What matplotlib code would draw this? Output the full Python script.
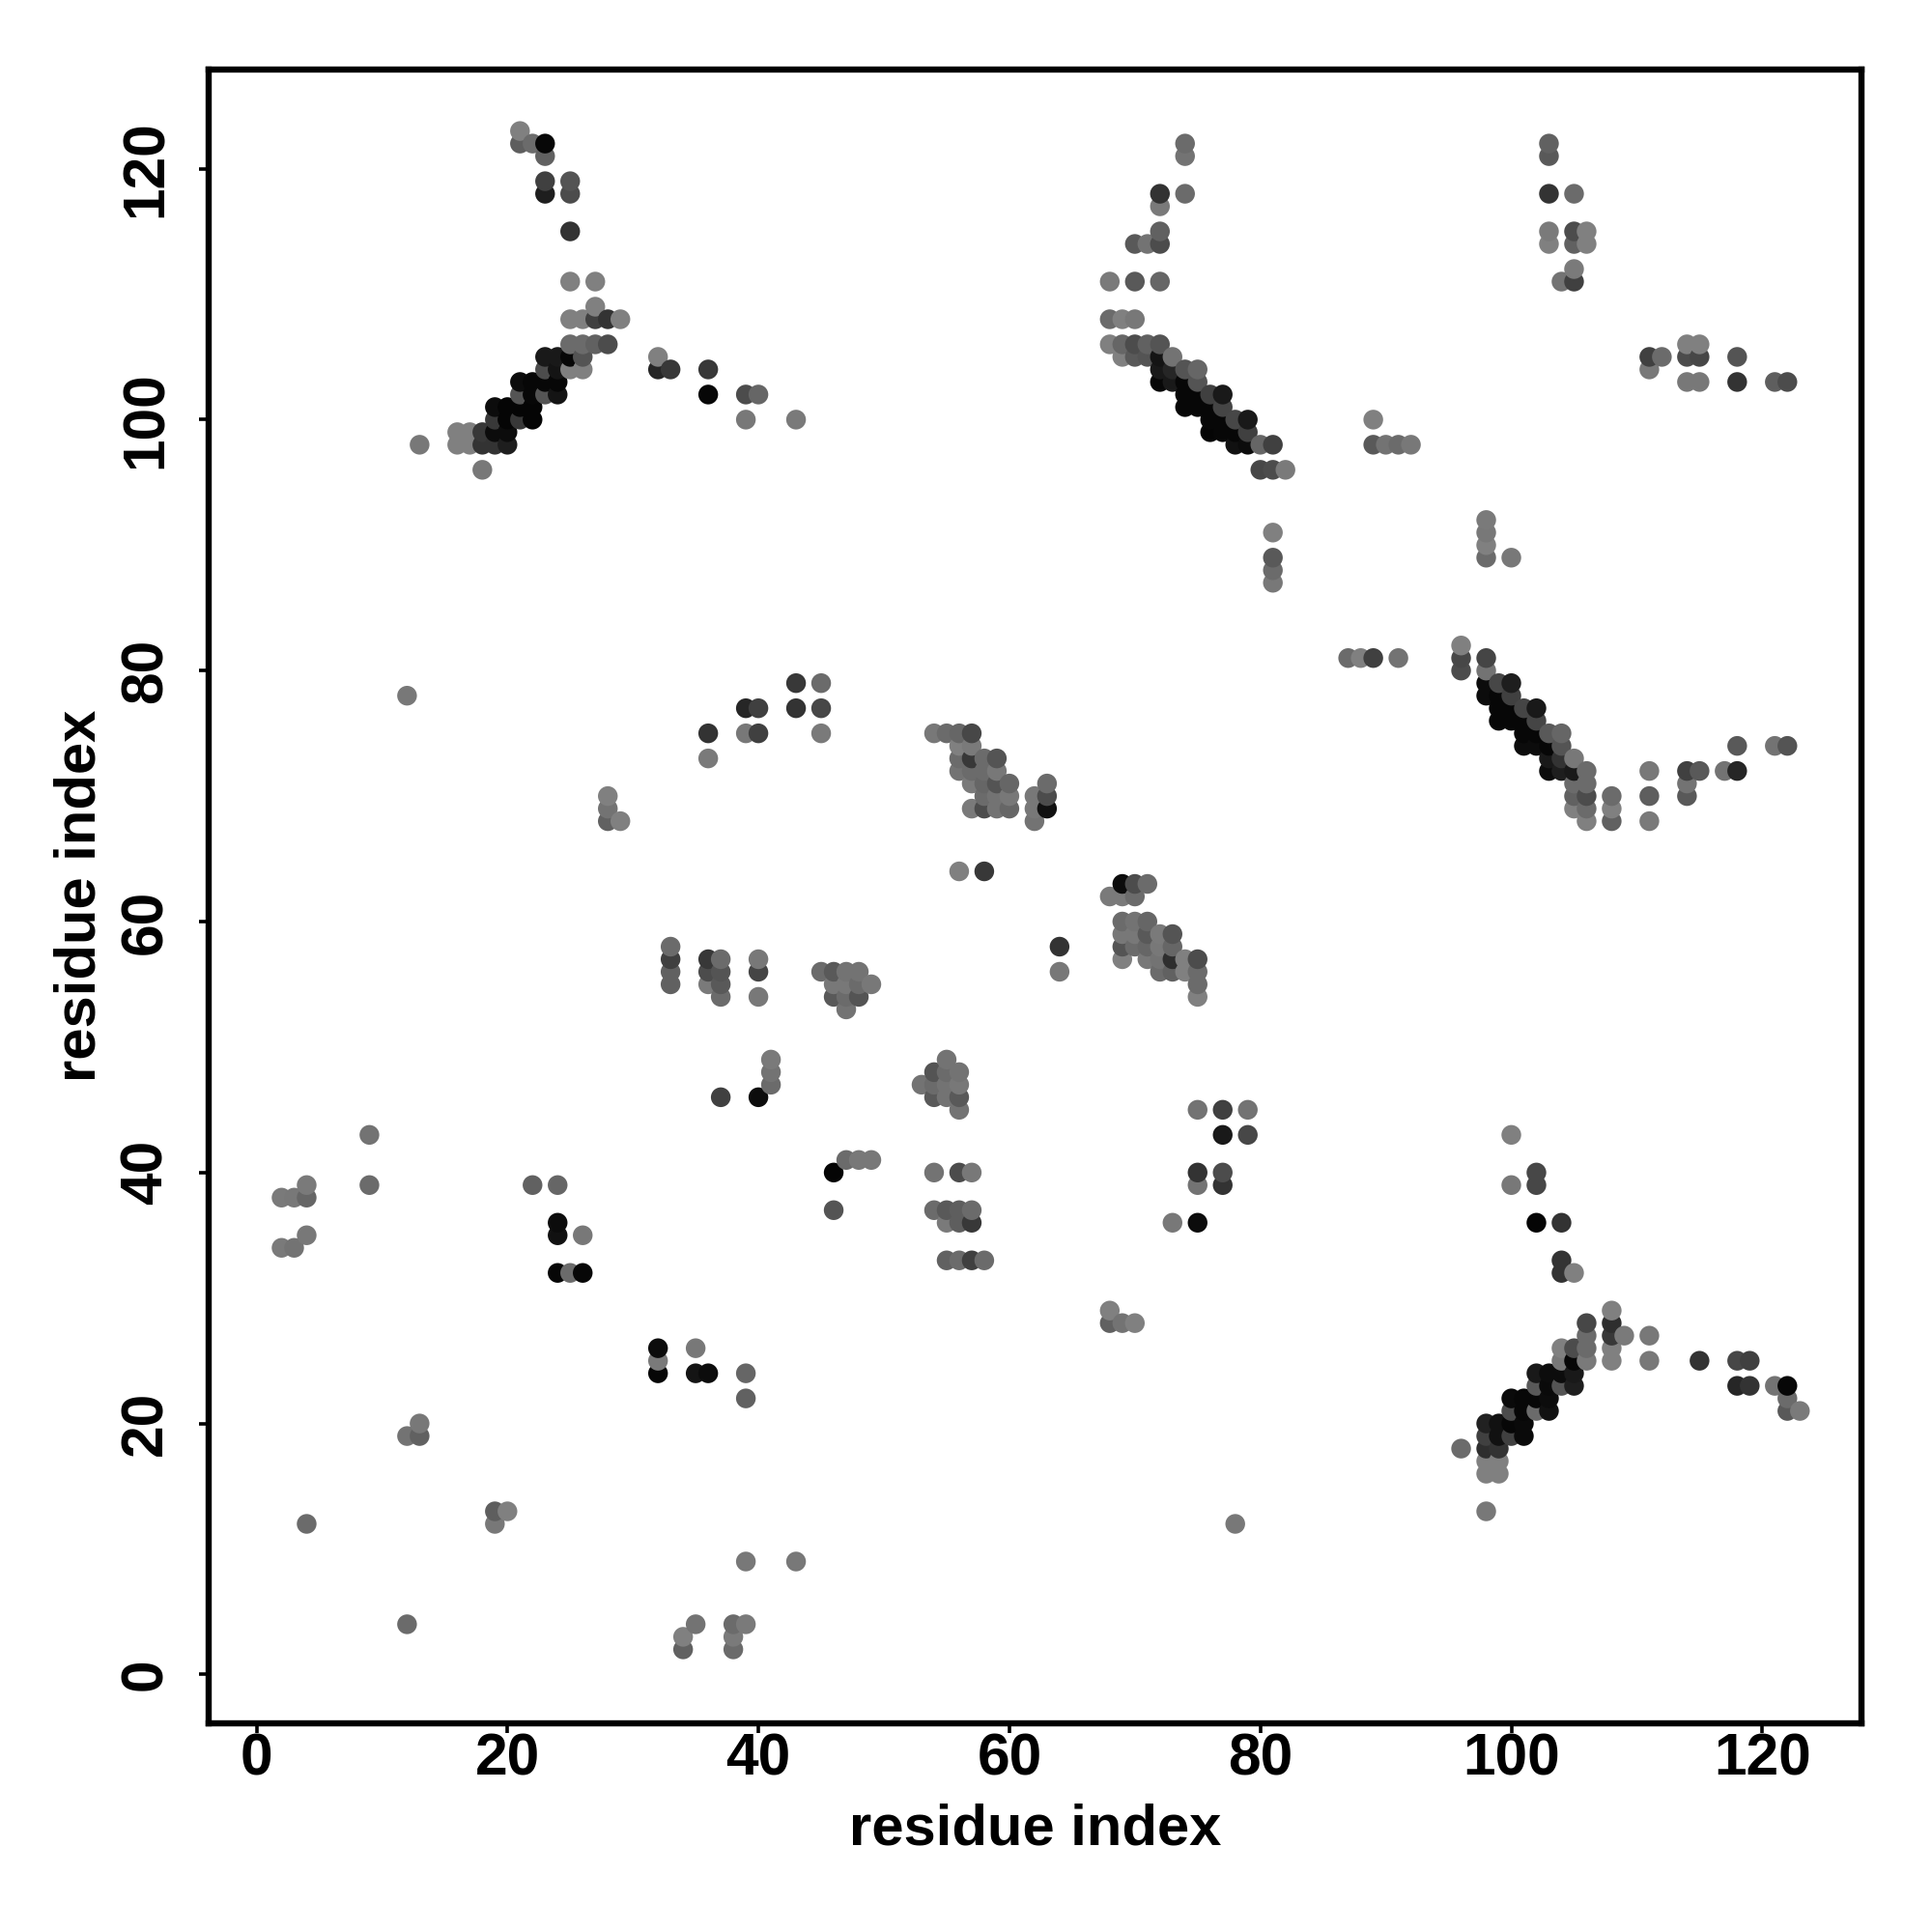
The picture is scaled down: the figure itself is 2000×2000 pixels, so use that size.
import matplotlib
matplotlib.use("Agg")
import matplotlib.pyplot as plt

plt.rcParams['font.family'] = ['Liberation Sans', 'DejaVu Sans']
plt.rcParams['font.weight'] = 'bold'

# contacts, one line per row of dots
res_i = [
    21, 21, 22, 23, 23, 23, 25, 23, 25, 25, 25, 27, 27,
    25, 26, 27, 28, 29, 25, 26, 27, 28, 23, 24, 25, 26, 32,
    23, 24, 25, 26, 32, 33, 21, 22, 23, 24, 21, 22, 23, 24,
    19, 20, 21, 22, 19, 20, 21, 22, 16, 17, 18, 19, 20,
    13, 16, 17, 18, 19, 20, 18,
    68, 69, 70, 68, 69, 70, 71, 72, 69, 70, 71, 72, 73,
    72, 73, 74, 75, 72, 73, 74, 75, 74, 75, 76, 77, 74, 75, 76, 77,
    76, 77, 78, 79, 76, 77, 78, 79, 78, 79, 80, 81, 80, 81, 82,
    96, 96, 96, 98, 98, 98, 99, 100, 98, 99, 100, 99, 100, 101, 102,
    99, 100, 101, 102, 101, 102, 103, 104, 101, 102, 103, 104,
    103, 104, 105, 103, 104, 105, 106, 105, 106, 105, 106, 108, 111,
    105, 106, 108, 106, 108, 111, 111, 114, 115, 114, 114, 118, 117, 118, 121, 122,
    96, 98, 98, 99, 98, 99, 98, 99, 98, 99, 100, 101, 98, 99, 100, 101,
    100, 101, 102, 103, 100, 101, 102, 103, 102, 103, 104, 105, 102, 103, 104, 105,
    104, 105, 106, 108, 111, 104, 105, 106, 108, 106, 108, 109, 111, 106, 108, 108,
    54, 55, 56, 57, 56, 57, 56, 57, 58, 59, 56, 57, 58, 59, 57, 58, 59, 60, 63,
    58, 59, 60, 62, 63, 57, 58, 59, 60, 62, 63, 62,
    69, 70, 71, 68, 69, 70, 69, 70, 71, 69, 70, 71, 72, 73, 69, 70, 71, 72, 73,
    69, 71, 72, 73, 74, 75, 72, 73, 74, 75, 75, 75,
    55, 54, 55, 56, 53, 54, 55, 56, 54, 55, 56, 56, 54, 56, 57,
    54, 55, 56, 57, 55, 56, 57, 55, 56, 57, 58,
    33, 33, 33, 33, 36, 36, 36, 37, 37, 37, 37, 40, 40, 40,
    45, 46, 46, 46, 47, 47, 47, 47, 48, 48, 48, 49,
    74, 74, 74, 72, 72, 72, 72, 71, 70, 72, 70, 68,
    103, 103, 103, 105, 103, 103, 105, 105, 106, 106, 105, 104, 105,
    111, 112, 111, 114, 115, 114, 115, 114, 115, 118, 118, 121, 122,
    89, 89, 90, 91, 92, 81, 81, 81, 81, 98, 98, 98, 98, 100, 87, 88, 89, 91,
    36, 36, 39, 40, 39, 43, 12, 39, 40, 39, 40, 36, 36, 43, 45, 43, 45, 45,
    28, 28, 28, 29, 56, 58, 64, 64, 37, 40, 41, 41, 41,
    46, 46, 47, 48, 49, 75, 77, 79, 77, 79, 75, 75, 77, 77, 73, 75,
    100, 100, 102, 102, 102, 104, 104, 104, 105, 68, 68, 69, 70, 78,
    115, 118, 119, 118, 119, 121, 122, 122, 122, 123,
    2, 3, 4, 4, 4, 2, 3, 9, 9, 4,
    22, 24, 24, 24, 26, 24, 25, 26, 32, 32, 32, 35, 35, 36, 39, 39,
    12, 13, 13, 19, 20, 19, 39, 43, 12, 34, 34, 35, 38, 39, 38, 38,
]
res_j = [
    123, 122, 122, 122, 121, 119, 119, 118, 118, 115, 111, 111, 109,
    108, 108, 108, 108, 108, 106, 106, 106, 106, 105, 105, 105, 105, 105,
    104, 104, 104, 104, 104, 104, 103, 103, 103, 103, 102, 102, 102, 102,
    101, 101, 101, 101, 100, 100, 100, 100, 99, 99, 99, 99, 99,
    98, 98, 98, 98, 98, 98, 96,
    108, 108, 108, 106, 106, 106, 106, 106, 105, 105, 105, 105, 105,
    104, 104, 104, 104, 103, 103, 103, 103, 102, 102, 102, 102, 101, 101, 101, 101,
    100, 100, 100, 100, 99, 99, 99, 99, 98, 98, 98, 98, 96, 96, 96,
    82, 81, 80, 81, 80, 79, 79, 79, 78, 78, 78, 77, 77, 77, 77,
    76, 76, 76, 76, 75, 75, 75, 75, 74, 74, 74, 74,
    73, 73, 73, 72, 72, 72, 72, 71, 71, 70, 70, 70, 70,
    69, 69, 69, 68, 68, 68, 72, 72, 72, 71, 70, 74, 72, 72, 74, 74,
    18, 13, 16, 16, 17, 17, 18, 18, 19, 19, 19, 19, 20, 20, 20, 20,
    21, 21, 21, 21, 22, 22, 22, 22, 23, 23, 23, 23, 24, 24, 24, 24,
    25, 25, 25, 25, 25, 26, 26, 26, 26, 27, 27, 27, 27, 28, 28, 29,
    75, 75, 75, 75, 74, 74, 73, 73, 73, 73, 72, 72, 72, 72, 71, 71, 71, 71, 71,
    70, 70, 70, 70, 70, 69, 69, 69, 69, 69, 69, 68,
    63, 63, 63, 62, 62, 62, 60, 60, 60, 59, 59, 59, 59, 59, 58, 58, 58, 58, 58,
    57, 57, 57, 57, 57, 57, 56, 56, 56, 56, 55, 54,
    49, 48, 48, 48, 47, 47, 47, 47, 46, 46, 46, 45, 40, 40, 40,
    37, 37, 37, 37, 36, 36, 36, 33, 33, 33, 33,
    58, 57, 56, 55, 57, 56, 55, 57, 56, 55, 54, 57, 56, 54,
    56, 56, 55, 54, 56, 55, 54, 53, 56, 55, 54, 55,
    122, 121, 118, 118, 117, 115, 114, 114, 114, 111, 111, 111,
    122, 121, 118, 118, 115, 114, 115, 114, 115, 114, 112, 111, 111,
    105, 105, 104, 105, 105, 106, 106, 103, 103, 105, 103, 103, 103,
    100, 98, 98, 98, 98, 91, 89, 88, 87, 92, 91, 90, 89, 89, 81, 81, 81, 81,
    104, 102, 102, 102, 100, 100, 78, 77, 77, 75, 75, 75, 73, 79, 79, 77, 77, 75,
    70, 69, 68, 68, 64, 64, 58, 56, 46, 46, 49, 48, 47,
    40, 37, 41, 41, 41, 45, 45, 45, 43, 43, 40, 39, 40, 39, 36, 36,
    43, 39, 40, 39, 36, 36, 33, 32, 32, 29, 28, 28, 28, 12,
    25, 25, 25, 23, 23, 23, 23, 22, 21, 21,
    38, 38, 38, 39, 35, 34, 34, 43, 39, 12,
    39, 39, 36, 35, 35, 32, 32, 32, 26, 25, 24, 26, 24, 24, 24, 22,
    19, 20, 19, 13, 13, 12, 9, 9, 4, 3, 2, 4, 4, 4, 3, 2,
]
shade = [
    .50, .37, .42, .03, .38, .25, .33, .12, .30, .20, .50, .50, .50,
    .50, .50, .25, .20, .50, .42, .42, .38, .30, .10, .10, .03, .33, .50,
    .30, .08, .50, .50, .15, .22, .05, .03, .03, .03, .33, .03, .33, .08,
    .05, .02, .02, .02, .22, .02, .22, .02, .50, .50, .22, .05, .05,
    .47, .50, .50, .20, .20, .12, .47,
    .42, .50, .47, .50, .40, .30, .38, .33, .50, .35, .33, .08, .45,
    .10, .15, .33, .40, .03, .10, .03, .33, .03, .03, .25, .10, .03, .03, .03, .27,
    .03, .03, .28, .10, .02, .03, .03, .25, .07, .05, .40, .25, .28, .30, .48,
    .50, .28, .30, .27, .45, .05, .28, .12, .05, .03, .25, .03, .03, .27, .10,
    .03, .03, .03, .27, .03, .03, .35, .40, .05, .05, .03, .33,
    .10, .20, .47, .05, .12, .10, .42, .42, .42, .38, .30, .42, .37,
    .50, .42, .50, .50, .38, .48, .47, .25, .35, .45, .35, .35, .45, .15, .45, .33,
    .42, .47, .50, .50, .50, .50, .18, .20, .25, .07, .25, .04, .13, .07, .03, .04,
    .30, .03, .42, .07, .04, .03, .03, .05, .35, .04, .33, .12, .10, .05, .05, .10,
    .47, .03, .48, .50, .47, .50, .30, .42, .50, .42, .22, .48, .47, .28, .18, .50,
    .47, .42, .40, .28, .50, .48, .42, .22, .42, .33, .45, .42, .42, .47, .48, .40, .33, .40, .42,
    .42, .45, .47, .47, .30, .48, .30, .45, .40, .47, .07, .45,
    .05, .30, .42, .48, .48, .42, .42, .45, .40, .47, .47, .35, .48, .33, .33, .42, .40, .47, .40,
    .50, .47, .45, .18, .50, .30, .42, .38, .50, .42, .42, .50,
    .45, .33, .42, .45, .45, .42, .45, .47, .35, .45, .35, .45, .45, .30, .47,
    .42, .35, .37, .42, .48, .37, .22, .38, .42, .25, .42,
    .42, .25, .38, .38, .22, .30, .48, .42, .33, .35, .42, .47, .27, .47,
    .42, .35, .47, .35, .45, .47, .42, .45, .45, .42, .33, .47,
    .42, .45, .42, .20, .48, .38, .30, .45, .35, .40, .35, .48,
    .38, .35, .20, .42, .48, .50, .30, .38, .50, .50, .48, .45, .25,
    .25, .42, .47, .30, .28, .50, .50, .47, .47, .33, .20, .37, .30,
    .50, .35, .45, .42, .47, .50, .35, .42, .47, .48, .47, .50, .42, .47, .42, .50, .25, .45,
    .22, .03, .30, .40, .47, .48, .47, .15, .25, .47, .25, .20, .48, .22, .42, .20, .28, .48,
    .50, .45, .38, .50, .50, .22, .20, .47, .25, .05, .48, .45, .42,
    .02, .33, .42, .47, .47, .45, .25, .45, .10, .28, .20, .45, .30, .20, .47, .05,
    .50, .47, .28, .28, .02, .20, .20, .20, .50, .50, .38, .45, .50, .47,
    .20, .28, .25, .15, .20, .45, .03, .42, .35, .48,
    .48, .47, .40, .48, .47, .48, .45, .45, .42, .42,
    .38, .40, .05, .07, .47, .03, .42, .03, .05, .48, .03, .47, .08, .05, .40, .38,
    .45, .47, .38, .37, .50, .47, .47, .47, .42, .50, .38, .45, .42, .48, .48, .42,
]
tick_values = [0, 20, 40, 60, 80, 100, 120]
axis_label = "residue index"

# later residues sit on top, same as the original draw order
order = sorted(range(len(res_i)), key=lambda k: (res_i[k], res_j[k]))
xs = [res_i[k] for k in order]
ys = [res_j[k] for k in order]
cs = [shade[k] for k in order]

fig = plt.figure(figsize=(10, 10), dpi=200)
ax = fig.add_axes([216 / 2000, 1 - 1783.5 / 2000, (1927 - 216) / 2000, (1783.5 - 71.5) / 2000])
ax.scatter(xs, ys, c=cs, cmap='gray', vmin=0, vmax=1, s=54, linewidths=0)

ax.set_xlim((216 - 265.5) / 12.99, (1927 - 265.5) / 12.99)
ax.set_ylim((1733.4 - 1783.5) / 12.99, (1733.4 - 71.5) / 12.99)
ax.set_xticks(tick_values)
ax.set_yticks(tick_values)
ax.tick_params(length=3.5, width=1.3, labelsize=21.8)
ax.tick_params(axis='x', pad=0.1)
ax.tick_params(axis='y', pad=9.3)
plt.setp(ax.get_yticklabels(), rotation=90, va='center')
ax.set_xlabel(axis_label, fontsize=21.5, fontweight='bold', labelpad=5.6)
ax.set_ylabel(axis_label, fontsize=21.5, fontweight='bold', labelpad=4.7)
for s in ax.spines.values():
    s.set_linewidth(2.3)

fig.savefig("out.png", dpi=200)
